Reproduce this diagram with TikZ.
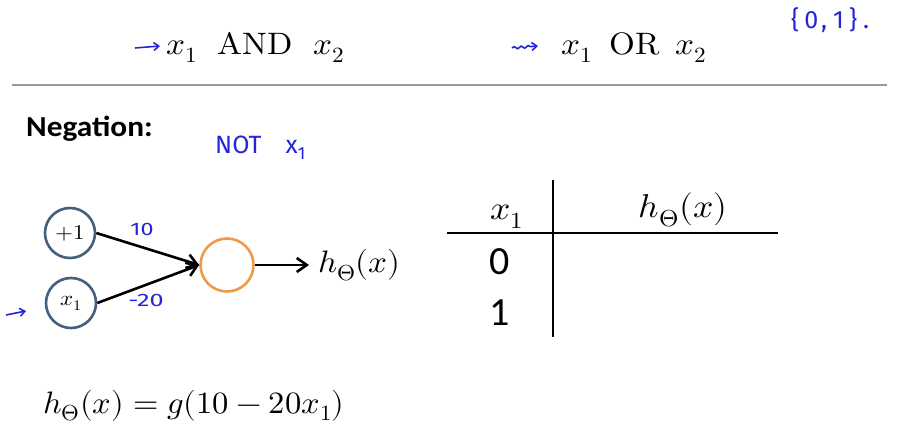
\documentclass[tikz,border=0pt]{standalone}
\usepackage{fontspec}
\usepackage{unicode-math}
\newfontfamily\calib{Carlito}
\newfontfamily\handf{Fira Sans}
\usetikzlibrary{arrows.meta,decorations.pathmorphing}
\definecolor{nblue}{HTML}{44607F}
\definecolor{norange}{HTML}{EE9A48}
\definecolor{ink}{HTML}{2424D8}
\definecolor{rule}{HTML}{9A9A9A}
\newcommand{\wide}[2]{\scalebox{#1}[1]{#2}}
\begin{document}
\begin{tikzpicture}[x=1pt,y=-1pt,
  neuron/.style={circle,draw=nblue,line width=2.6pt,minimum size=50pt,inner sep=0pt,font=\fontsize{21}{23}\selectfont},
  outn/.style={circle,draw=norange,line width=2.6pt,minimum size=53pt,inner sep=0pt},
  conn/.style={line width=2.6pt,-{Straight Barb[length=10pt,width=14pt,line width=2.6pt]}},
  mtext/.style={inner sep=0pt,font=\fontsize{31}{34}\selectfont},
  ttext/.style={inner sep=0pt,font=\fontsize{33}{36}\selectfont},
  hand/.style={inner sep=0pt,text=ink,font=\handf\fontsize{25}{27}\selectfont},
  smallhand/.style={inner sep=0pt,text=ink,font=\handf\fontsize{18}{20}\selectfont},
  inkarrow/.style={draw=ink,line width=1.6pt,-{Straight Barb[length=5pt,width=8pt]}},
  wavy/.style={decorate,decoration={snake,amplitude=1.2pt,segment length=7pt,post length=5pt}},
  tabnum/.style={inner sep=0pt,font=\calib\fontsize{40}{42}\selectfont}]
\useasboundingbox (0,0) rectangle (902,446);
\fill[white] (0,0) rectangle (902,446);
% top
\node[mtext,anchor=base west] (and) at (166,55) {\wide{1.07}{$x_1$\hspace{19pt}$\symup{AND}$\hspace{19pt}$x_2$}};
\node[mtext,anchor=base west] (or) at (561,55) {\wide{1.07}{$x_1$\hspace{16pt}$\symup{OR}$\hspace{14pt}$x_2$}};
\coordinate (a1s) at (135,48); \coordinate (a1e) at (160,46);
\draw[inkarrow] (a1s) -- (a1e);
\coordinate (a2s) at (512,48); \coordinate (a2e) at (538,46);
\draw[inkarrow,wavy] (a2s) -- (a2e);
\node[hand,anchor=west] (set) at (791,20) {\{\hspace{5pt}0\hspace{3pt},\hspace{6pt}1\hspace{5pt}\}\hspace{6pt}.};
\coordinate (r1) at (12,85); \coordinate (r2) at (887,85);
\draw[rule,line width=2pt] (r1) -- (r2);
% negation
\node[anchor=base west,inner sep=0pt,font=\calib\bfseries\fontsize{29}{32}\selectfont] (neg) at (26,137) {\wide{1.08}{Negation:}};
\node[hand,anchor=west] (notx) at (215,148) {NOT\hspace{24pt}x\textsubscript{1}};
% network
\node[neuron] (b) at (70,233) {\wide{1.1}{$+1$}};
\node[neuron] (x) at (71,303) {\wide{1.1}{$x_1$}};
\node[outn] (o) at (227,265) {};
\node[mtext,anchor=base west] (h) at (318,273) {\wide{1.07}{$h_\Theta(x)$}};
\draw[conn] (b.east) -- (o.west);
\draw[conn] (x.east) -- (o.west);
\draw[conn,shorten >=9pt] (o.east) -- (o.east -| h.west);
\node[smallhand] (w1) at (142,229) {\wide{1.3}{10}};
\node[smallhand] (w2) at (146,300) {\wide{1.4}{-20}};
\coordinate (a3s) at (6,315); \coordinate (a3e) at (26,311);
\draw[inkarrow] (a3s) -- (a3e);
% table
\coordinate (vt) at (553,180); \coordinate (vb) at (553,337);
\coordinate (hl) at (447,233); \coordinate (hr) at (778,233);
\draw[line width=1.3pt] (vt) -- (vb);
\draw[line width=1.3pt] (hl) -- (hr);
\node[ttext,anchor=base] (tx) at (507,220) {\wide{1.08}{$x_1$}};
\node[ttext,anchor=base] (th) at (683,218) {\wide{1.08}{$h_\Theta(x)$}};
\node[tabnum,anchor=base] (t0) at (500,275) {0};
\node[tabnum,anchor=base] (t1) at (500,325) {1};
% formula
\node[mtext,anchor=base west] (f) at (43,413) {\wide{1.05}{$h_\Theta(x)=g(10-20x_1)$}};
\end{tikzpicture}
\end{document}
